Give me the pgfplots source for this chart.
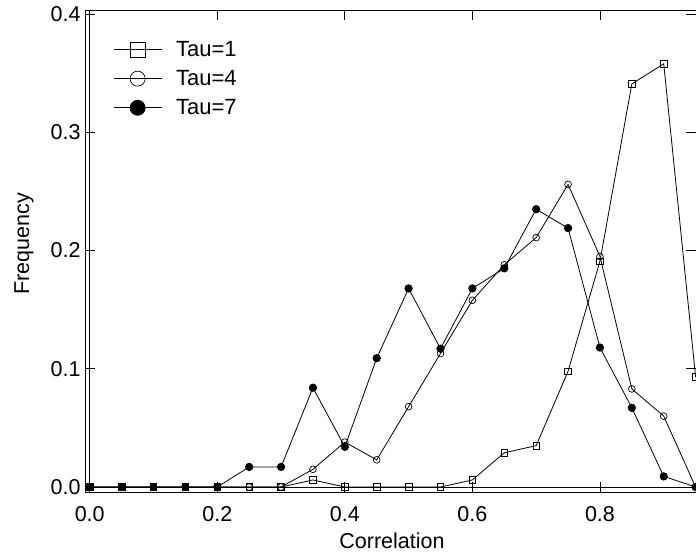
\documentclass[border=0pt]{standalone}
\usepackage{fontspec}
\setmainfont{Liberation Sans}
\usepackage{pgfplots}
\pgfplotsset{compat=1.18}
\begin{document}
\begin{tikzpicture}
\useasboundingbox (-85pt,-65pt) rectangle (611pt,492pt);
\begin{axis}[
  scale only axis,
  width=611pt, height=482pt,
  xmin=-0.0074, xmax=0.9506,
  ymin=-0.0042, ymax=0.4035,
  xtick={0,0.2,0.4,0.6,0.8},
  ytick={0,0.1,0.2,0.3,0.4},
  tick pos=both, tick align=inside,
  major tick length=10pt,
  axis line style={line width=0.9pt},
  tick style={line width=0.8pt, black},
  /pgf/number format/.cd, fixed, fixed zerofill, precision=1, assume math mode=true,
  /pgfplots/.cd,
  tick label style={font=\fontsize{21.5}{24}\selectfont},
  xticklabel style={yshift=-11pt},
  yticklabel style={xshift=-1pt},
  label style={font=\fontsize{21.5}{24}\selectfont},
  xlabel={Correlation},
  ylabel={Frequency},
  xlabel style={at={(rel axis cs:0.5025,-0.1017)}, anchor=center},
  ylabel style={at={(rel axis cs:-0.0998,0.5145)}, anchor=center},
  legend style={draw=none, fill=none, at={(0.041,0.944)}, anchor=north west,
    font=\fontsize{22}{24}\selectfont, row sep=8.5pt},
  legend cell align=left,
  legend image code/.code={
    \draw[#1] (0pt,0pt) -- (48pt,0pt);
    \draw[#1, mark size=7.5pt] plot coordinates {(24pt,0pt)};
    \path (60pt,0pt);
  },
  every axis plot/.append style={line width=0.8pt, black},
]
\draw[line width=0.9pt] (axis cs:0,-0.0042) -- (axis cs:0,0.4035);
\draw[line width=0.9pt] (axis cs:-0.0074,0) -- (axis cs:0.9506,0);
\addplot[mark=square, mark size=3.3pt, mark options={solid, line width=0.7pt}] coordinates {
(0,0) (0.05,0) (0.1,0) (0.15,0) (0.2,0) (0.25,0) (0.3,0) (0.35,0.006) (0.4,0) (0.45,0)
(0.5,0) (0.55,0) (0.6,0.006) (0.65,0.029) (0.7,0.035) (0.75,0.098) (0.8,0.191)
(0.85,0.341) (0.9,0.358) (0.95,0.093)};
\addlegendentry{Tau=1}
\addplot[mark=o, mark size=3.4pt, mark options={solid, line width=0.7pt}] coordinates {
(0,0) (0.05,0) (0.1,0) (0.15,0) (0.2,0) (0.25,0) (0.3,0) (0.35,0.015) (0.4,0.038) (0.45,0.023)
(0.5,0.068) (0.55,0.113) (0.6,0.158) (0.65,0.188) (0.7,0.211) (0.75,0.256) (0.8,0.195)
(0.85,0.083) (0.9,0.060) (0.95,0)};
\addlegendentry{Tau=4}
\addplot[mark=*, mark size=3.7pt, mark options={solid, fill=black}] coordinates {
(0,0) (0.05,0) (0.1,0) (0.15,0) (0.2,0) (0.25,0.017) (0.3,0.017) (0.35,0.084) (0.4,0.034) (0.45,0.109)
(0.5,0.168) (0.55,0.117) (0.6,0.168) (0.65,0.185) (0.7,0.235) (0.75,0.219) (0.8,0.118)
(0.85,0.067) (0.9,0.009) (0.95,0)};
\addlegendentry{Tau=7}
\end{axis}
\end{tikzpicture}
\end{document}
